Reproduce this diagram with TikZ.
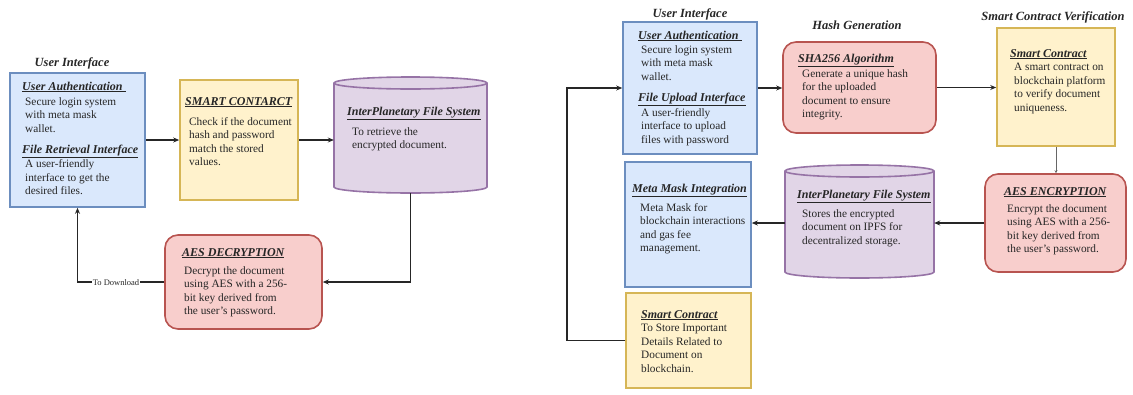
\documentclass[tikz,border=0pt]{standalone}
\usepackage{fontspec}
\setmainfont{Liberation Serif}
\usetikzlibrary{arrows.meta}
\definecolor{bfill}{HTML}{DAE8FC}\definecolor{bline}{HTML}{6C8EBF}
\definecolor{yfill}{HTML}{FFF2CC}\definecolor{yline}{HTML}{D6B656}
\definecolor{rfill}{HTML}{F8CECC}\definecolor{rline}{HTML}{B85450}
\definecolor{pfill}{HTML}{E1D5E7}\definecolor{pline}{HTML}{9673A6}
\definecolor{txt}{HTML}{262626}
\begin{document}
\begin{tikzpicture}[x=1pt,y=-1pt,
  boxbase/.style={line width=1.6pt, inner sep=0pt},
  bluebox/.style={boxbase, draw=bline, fill=bfill},
  yellowbox/.style={boxbase, draw=yline, fill=yfill},
  redbox/.style={boxbase, draw=rline, fill=rfill, rounded corners=13pt},
  cylarea/.style={inner sep=0pt},
  cylshape/.style={line width=1.6pt, draw=pline, fill=pfill},
  ttl/.style={anchor=base west, inner sep=0pt, font=\fontsize{12}{14}\selectfont\bfseries\itshape, text=txt},
  body/.style={anchor=north west, yshift=7.7pt, inner sep=0pt, align=left, font=\fontsize{11.3}{13.5}\selectfont, text=txt},
  sect/.style={anchor=base, inner sep=0pt, font=\fontsize{12.5}{14}\selectfont\bfseries\itshape, text=txt},
  arr/.style={line width=1.3pt, draw=black!85, -{Stealth[length=6pt,width=5pt]}},
  thinarr/.style={line width=0.7pt, draw=black!60, -{Stealth[length=3pt,width=3pt]}},
  lbl/.style={fill=white, inner sep=0.5pt, font=\fontsize{8.5}{10}\selectfont, text=txt},
]
\useasboundingbox (0,0) rectangle (1133,394);

% ---------------- Left diagram ----------------
\node[sect] (t1) at (72,66) {User Interface};
\node[bluebox, minimum width=135, minimum height=134] (B1) at (77.5,140) {};
\node[ttl] (B1a) at (22,90) {\underline{User Authentication\ }};
\node[body] (B1b) at (25,105) {Secure login system\\with meta mask\\wallet.};
\node[ttl] (B1c) at (22,153) {\underline{File Retrieval Interface}};
\node[body] (B1d) at (25,167.5) {A user-friendly\\interface to get the\\desired files.};

\node[yellowbox, minimum width=118, minimum height=120] (Y1) at (239,140) {};
\node[ttl] (Y1a) at (185,105) {\underline{SMART CONTARCT}};
\node[body] (Y1b) at (189,125) {Check if the document\\hash and password\\match the stored\\values.};

\node[cylarea, minimum width=153, minimum height=116] (C1) at (410.5,135) {};
\path[cylshape] (334,83) -- (334,187) arc (180:360:76.5pt and 6pt) -- (487,83) arc (0:180:76.5pt and 6pt) -- cycle;
\draw[line width=1.6pt, draw=pline] (334,83) arc (180:360:76.5pt and 6pt);
\node[ttl] (C1a) at (347,115.5) {\underline{InterPlanetary File System}};
\node[body] (C1b) at (352,135) {To retrieve the\\encrypted document.};

\node[redbox, minimum width=157, minimum height=94] (D1) at (243.5,282) {};
\node[ttl] (D1a) at (182,256) {\underline{AES DECRYPTION}};
\node[body] (D1b) at (184,274) {Decrypt the document\\using AES with a 256-\\bit key derived from\\the user's password.};

\draw[arr] (B1.east) -- (Y1.west);
\draw[arr] (Y1.east) -- (Y1.east -| C1.west);
\draw[arr] (C1.south) |- (D1.east);
\draw[arr] (D1.west) -| (B1.south);
\node[lbl] (dl) at (116,283) {To Download};

% ---------------- Right diagram ----------------
\node[sect] (t2) at (690,17) {User Interface};
\node[bluebox, minimum width=134, minimum height=132] (B2) at (690,88) {};
\node[ttl] (B2a) at (638,39) {\underline{User Authentication\ }};
\node[body] (B2b) at (641,53) {Secure login system\\with meta mask\\wallet.};
\node[ttl] (B2c) at (638,101.5) {\underline{File Upload Interface}};
\node[body] (B2d) at (641,116) {A user-friendly\\interface to upload\\files with password};

\node[sect] (t3) at (857,29) {Hash Generation};
\node[redbox, minimum width=153, minimum height=91] (S2) at (859.5,87.5) {};
\node[ttl] (S2a) at (798,62) {\underline{SHA256 Algorithm}};
\node[body] (S2b) at (802,77) {Generate a unique hash\\for the uploaded\\document to ensure\\integrity.};

\node[sect] (t4) at (1053,20) {Smart Contract Verification};
\node[yellowbox, minimum width=118, minimum height=118] (Y2) at (1056,87) {};
\node[ttl] (Y2a) at (1010,57) {\underline{Smart Contract}};
\node[body] (Y2b) at (1014,71) {A smart contract on\\blockchain platform\\to verify document\\uniqueness.};

\node[redbox, minimum width=141, minimum height=98] (E2) at (1055.5,223) {};
\node[ttl] (E2a) at (1004,195) {\underline{AES ENCRYPTION}};
\node[body] (E2b) at (1007,212) {Encrypt the document\\using AES with a 256-\\bit key derived from\\the user's password.};

\node[cylarea, minimum width=149, minimum height=113] (C2) at (859.5,221.5) {};
\path[cylshape] (785,171) -- (785,272) arc (180:360:74.5pt and 6pt) -- (934,171) arc (0:180:74.5pt and 6pt) -- cycle;
\draw[line width=1.6pt, draw=pline] (785,171) arc (180:360:74.5pt and 6pt);
\node[ttl] (C2a) at (797,198) {\underline{InterPlanetary File System}};
\node[body] (C2b) at (802,217) {Stores the encrypted\\document on IPFS for\\decentralized storage.};

\node[bluebox, minimum width=126, minimum height=125] (M2) at (688,224.5) {};
\node[ttl] (M2a) at (632,192) {\underline{Meta Mask Integration}};
\node[body] (M2b) at (640,211) {Meta Mask for\\blockchain interactions\\and gas fee\\management.};

\node[yellowbox, minimum width=125, minimum height=95] (SC) at (688.5,340.5) {};
\node[ttl] (SCa) at (641,318) {\underline{Smart Contract}};
\node[body] (SCb) at (641,332) {To Store Important\\Details Related to\\Document on\\blockchain.};

\coordinate (lp) at (567,340);
\draw[arr] (B2.east) -- (B2.east -| S2.west);
\draw[arr] (S2.east) -- (S2.east -| Y2.west);
\draw[thinarr] (Y2.south) -- (Y2.south |- E2.north);
\draw[arr] (E2.west) -- (E2.west -| C2.east);
\draw[arr] (E2.west -| C2.west) -- (E2.west -| M2.east);
\draw[arr] (SC.west) -- (SC.west -| lp) |- (B2.west);
\end{tikzpicture}
\end{document}
